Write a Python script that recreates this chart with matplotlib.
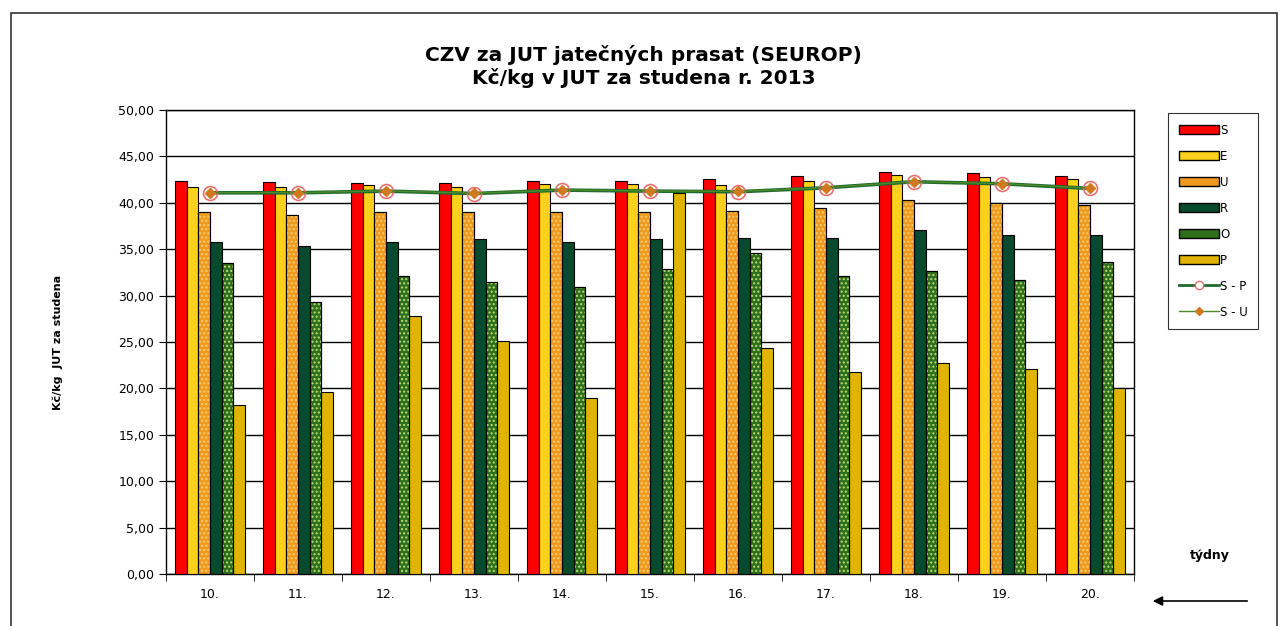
import matplotlib.pyplot as plt
import numpy as np
from matplotlib.patches import Rectangle, Patch
from matplotlib.lines import Line2D
from matplotlib.ticker import FuncFormatter, MultipleLocator

# weeks
weeks = ['10.', '11.', '12.', '13.', '14.', '15.', '16.', '17.', '18.', '19.', '20.']

# prices per class (Kč/kg)
s_vals = [42.34, 42.23, 42.09, 42.09, 42.34, 42.34, 42.52, 42.84, 43.31, 43.17, 42.84]
e_vals = [41.73, 41.73, 41.90, 41.73, 42.05, 42.05, 41.87, 42.34, 43.02, 42.80, 42.52]
u_vals = [38.99, 38.67, 38.99, 38.99, 38.99, 38.99, 39.14, 39.42, 40.29, 40.00, 39.78]
r_vals = [35.76, 35.32, 35.76, 36.12, 35.76, 36.12, 36.26, 36.26, 37.05, 36.58, 36.58]
o_vals = [33.53, 29.35, 32.09, 31.44, 30.94, 32.88, 34.60, 32.09, 32.70, 31.73, 33.67]
p_vals = [18.24, 19.57, 27.77, 25.14, 18.92, 41.08, 24.35, 21.76, 22.73, 22.12, 20.07]

# averages
sp_vals = [41.08, 41.08, 41.26, 41.00, 41.37, 41.26, 41.19, 41.62, 42.27, 42.05, 41.55]
su_vals = [41.10, 41.10, 41.28, 41.03, 41.38, 41.28, 41.22, 41.64, 42.28, 42.07, 41.58]

series = [
    ('S', s_vals, '#FF0000', None, None),
    ('E', e_vals, '#FAD21E', None, None),
    ('U', u_vals, '#EE9A1E', '....', '#F8D070'),
    ('R', r_vals, '#0A4A2C', None, None),
    ('O', o_vals, '#2F6E1A', '....', '#B8E07A'),
    ('P', p_vals, '#E0B400', None, None),
]

fig = plt.figure(figsize=(12.87, 6.26), dpi=100)
ax = fig.add_axes([166 / 1287, 1 - 574 / 626, (1134 - 166) / 1287, (574 - 110) / 626])

x = np.arange(len(weeks))
bw = 0.131
offsets = (np.arange(6) - 2.5) * bw

for i, (name, vals, col, hatch, hcol) in enumerate(series):
    ax.bar(x + offsets[i], vals, bw, color=col, edgecolor='black', linewidth=0.8, zorder=3)
    if hatch:
        ax.bar(x + offsets[i], vals, bw, color='none', edgecolor=hcol, hatch=hatch,
               linewidth=0, zorder=3.5)
        ax.bar(x + offsets[i], vals, bw, color='none', edgecolor='black', linewidth=0.8, zorder=3.6)

ax.plot(x, sp_vals, color='#1E6B2E', lw=2.6, marker='o', markersize=10,
        markerfacecolor='none', markeredgecolor='#E87070', markeredgewidth=1.2, zorder=5)
ax.plot(x, su_vals, color='#4E8A2A', lw=1.0, marker='D', markersize=5,
        markerfacecolor='#D07A20', markeredgecolor='#D07A20', zorder=6)

ax.set_xlim(-0.5, len(weeks) - 0.5)
ax.set_ylim(0, 50)
ax.yaxis.set_major_locator(MultipleLocator(5))
ax.yaxis.set_major_formatter(FuncFormatter(lambda v, p: f'{v:.2f}'.replace('.', ',')))
ax.grid(axis='y', color='black', lw=1, zorder=1)

ax.set_xticks(x)
ax.set_xticklabels(weeks)
ax.set_xticks(np.arange(len(weeks) + 1) - 0.5, minor=True)
ax.tick_params(axis='x', which='major', length=0, pad=10, labelsize=9)
ax.tick_params(axis='x', which='minor', length=5, direction='out')
ax.tick_params(axis='y', length=5, direction='out', labelsize=9)

for side in ax.spines:
    ax.spines[side].set_linewidth(1)

ax.set_ylabel('Kč/kg  JUT za studena', fontsize=8, fontweight='bold', labelpad=40)

fig.text(0.5, 1 - 55 / 626, 'CZV za JUT jatečných prasat (SEUROP)', ha='center', va='center',
         fontsize=14.5, fontweight='bold')
fig.text(0.5, 1 - 78 / 626, 'Kč/kg v JUT za studena r. 2013', ha='center', va='center',
         fontsize=14.5, fontweight='bold')

handles = []
for name, vals, col, hatch, hcol in series:
    handles.append(Patch(facecolor=col, edgecolor='black', label=name))
handles.append(Line2D([], [], color='#1E6B2E', lw=2, marker='o', markersize=6,
                      markerfacecolor='white', markeredgecolor='#E87070', label='S - P'))
handles.append(Line2D([], [], color='#4E8A2A', lw=1, marker='D', markersize=4,
                      markerfacecolor='#D07A20', markeredgecolor='#D07A20', label='S - U'))
leg = fig.legend(handles=handles, loc='upper left', bbox_to_anchor=(1168 / 1287, 1 - 113 / 626),
                 frameon=True, fancybox=False, edgecolor='black', fontsize=8.5,
                 handlelength=3.4, handleheight=0.7, handletextpad=0.1, labelspacing=1.1,
                 borderpad=0.9, borderaxespad=0)
leg.get_frame().set_linewidth(0.8)

fig.text(1210 / 1287, 1 - 556 / 626, 'týdny', ha='center', va='center', fontsize=9, fontweight='bold')
fig.add_artist(plt.Annotation('', xy=(1150 / 1287, 1 - 601 / 626), xytext=(1250 / 1287, 1 - 601 / 626),
                              xycoords='figure fraction', textcoords='figure fraction',
                              arrowprops=dict(arrowstyle='-|>', color='black', lw=1.2, mutation_scale=14)))

fig.add_artist(Rectangle((11 / 1287, -0.1), (1277 - 11) / 1287, 1.1 - 13 / 626,
                         transform=fig.transFigure, fill=False, edgecolor='#333333', lw=1.2))

fig.savefig('out.png', dpi=100)
